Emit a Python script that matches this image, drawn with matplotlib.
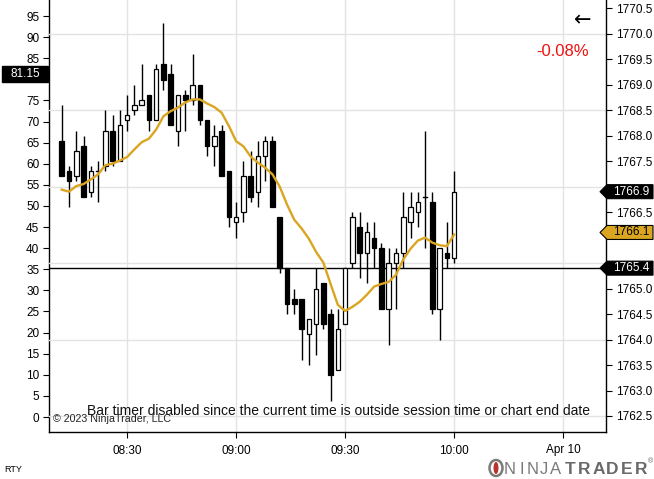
import matplotlib
matplotlib.use("Agg")
import matplotlib.pyplot as plt
from matplotlib.patches import Rectangle, Polygon, Ellipse
import matplotlib.transforms as mtrans

plt.rcParams['font.family'] = ['Liberation Sans', 'DejaVu Sans']

# ---------------- data ----------------
opens = [1767.9, 1767.3, 1767.2, 1767.8, 1766.9, 1767.3, 1767.4, 1768.1, 1767.5, 1768.3,
         1768.5, 1768.6, 1768.8, 1768.3, 1769.4, 1769.2, 1768.1, 1768.8, 1768.7, 1769.0,
         1768.3, 1767.8, 1768.1, 1767.3, 1766.3, 1766.5, 1767.2, 1766.9, 1767.6, 1767.9,
         1766.4, 1765.4, 1764.8, 1764.8, 1764.1, 1764.3, 1765.1, 1764.5, 1763.4, 1764.3,
         1765.5, 1766.2, 1765.7, 1766.0, 1765.8, 1764.6, 1765.5, 1765.7, 1766.3, 1766.5,
         1766.8, 1766.7, 1764.6, 1765.7, 1765.6]
highs = [1768.6, 1767.4, 1768.1, 1768.0, 1767.4, 1767.5, 1768.5, 1768.4, 1768.5, 1768.8,
         1769.0, 1769.4, 1768.8, 1769.4, 1770.2, 1769.4, 1768.8, 1768.9, 1769.6, 1769.0,
         1768.3, 1768.2, 1768.2, 1767.3, 1766.7, 1767.5, 1767.7, 1767.9, 1768.0, 1768.0,
         1766.4, 1765.4, 1765.0, 1764.8, 1764.4, 1765.4, 1765.1, 1764.6, 1764.6, 1765.4,
         1766.5, 1766.5, 1766.3, 1766.3, 1765.9, 1765.8, 1765.8, 1766.9, 1766.9, 1766.9,
         1768.1, 1766.9, 1765.8, 1766.3, 1767.3]
lows = [1767.2, 1766.6, 1767.1, 1766.8, 1766.8, 1766.7, 1767.3, 1767.4, 1767.5, 1768.1,
        1768.4, 1768.6, 1768.1, 1768.3, 1768.9, 1768.2, 1767.8, 1768.1, 1768.6, 1768.2,
        1767.6, 1767.4, 1767.2, 1766.2, 1766.0, 1766.3, 1766.7, 1766.6, 1767.1, 1766.6,
        1765.3, 1764.5, 1764.5, 1763.6, 1763.5, 1763.7, 1764.2, 1762.8, 1763.4, 1764.3,
        1765.4, 1765.2, 1765.1, 1765.4, 1764.6, 1763.9, 1764.6, 1765.4, 1766.0, 1766.2,
        1765.8, 1764.5, 1764.0, 1765.4, 1765.5]
closes = [1767.2, 1767.1, 1767.7, 1766.8, 1767.3, 1767.3, 1768.1, 1767.5, 1768.2, 1768.4,
          1768.6, 1768.7, 1768.3, 1769.3, 1769.1, 1768.2, 1768.8, 1768.7, 1769.0, 1768.3,
          1767.8, 1768.0, 1767.2, 1766.4, 1766.4, 1767.2, 1766.8, 1767.6, 1767.9, 1766.6,
          1765.4, 1764.7, 1764.7, 1764.2, 1764.4, 1765.0, 1764.3, 1763.3, 1764.2, 1765.4,
          1766.4, 1765.7, 1766.1, 1765.8, 1764.6, 1765.5, 1765.7, 1766.4, 1766.6, 1766.7,
          1766.8, 1764.6, 1765.8, 1765.6, 1766.9]
sma = [1766.94, 1766.90, 1767.01, 1767.05, 1767.14, 1767.24, 1767.42, 1767.45, 1767.51, 1767.58,
       1767.73, 1767.87, 1767.94, 1768.12, 1768.38, 1768.48, 1768.55, 1768.65, 1768.71, 1768.71,
       1768.63, 1768.56, 1768.45, 1768.19, 1767.89, 1767.79, 1767.59, 1767.47, 1767.37, 1767.24,
       1767.00, 1766.65, 1766.35, 1766.18, 1765.98, 1765.72, 1765.51, 1765.09, 1764.68, 1764.56,
       1764.64, 1764.74, 1764.88, 1765.04, 1765.09, 1765.13, 1765.27, 1765.57, 1765.78, 1765.94,
       1766.00, 1765.90, 1765.85, 1765.83, 1766.06]

xtick_pos = [9, 24, 39, 54, 69]
xtick_labels = ['08:30', '09:00', '09:30', '10:00', 'Apr 10']
price_ticks = [1762.5 + 0.5 * k for k in range(17)]
price_hidden = [1765.5, 1766.0, 1767.0]   # covered by the price markers
price_grid = [1762.5, 1764.0, 1765.5, 1767.0, 1768.5, 1770.0]
left_ticks = list(range(0, 100, 5))
left_hidden = [80]

last_price = 1766.9
sma_last = 1766.1
hline_price = 1765.4
left_marker = 81.15
change_text = '-0.08%'

# ---------------- figure ----------------
W, H = 654, 479
fig = plt.figure(figsize=(W / 100, H / 100), dpi=100)
fig.patch.set_facecolor('white')

def px(x, y):
    return x / W, 1 - y / H

L, R, T, B = 49, 606, 0, 432
pos = [L / W, 1 - B / H, (R - L) / W, (B - T) / H]

# left indicator axis (behind)
axL = fig.add_axes(pos)
axL.set_xlim(0, 1)
axL.set_xticks([])
axL.set_ylim(-3.55, 98.8)
axL.set_yticks(left_ticks)
axL.set_yticklabels(['' if v in left_hidden else str(v) for v in left_ticks])
axL.tick_params(axis='y', direction='out', length=4, pad=3, labelsize=8.5)
for s in ['top', 'right', 'bottom']:
    axL.spines[s].set_visible(False)
axL.spines['left'].set_linewidth(1.0)

# main price axis
ax = fig.add_axes(pos)
ax.patch.set_visible(False)
ax.set_xlim(-1.75, 74.9)
ax.set_ylim(1762.186, 1770.66)

for g in price_grid:
    ax.axhline(g, color='#e3e3e3', lw=1.0, zorder=0)
for xt in xtick_pos:
    ax.axvline(xt, color='#e3e3e3', lw=1.0, zorder=0)

ax.axhline(hline_price, color='black', lw=1.0, zorder=2)

bw = 0.62
for i, (o, h, l, c) in enumerate(zip(opens, highs, lows, closes)):
    ax.plot([i, i], [l, h], color='black', lw=1.0, zorder=3, solid_capstyle='butt')
    lo, hi = min(o, c), max(o, c)
    if abs(c - o) < 1e-9:
        ax.plot([i - bw / 2, i + bw / 2], [o, o], color='black', lw=1.0, zorder=4)
    else:
        face = 'white' if c > o else 'black'
        ax.add_patch(Rectangle((i - bw / 2, lo), bw, hi - lo, facecolor=face,
                               edgecolor='black', lw=0.9, zorder=4))

ax.plot(range(len(sma)), sma, color='#DAA520', lw=1.7, zorder=5)

for s in ['top', 'left']:
    ax.spines[s].set_visible(False)
for s in ['right', 'bottom']:
    ax.spines[s].set_color('black')
    ax.spines[s].set_linewidth(1.0)
ax.yaxis.tick_right()
ax.set_yticks(price_ticks)
ax.set_yticklabels(['' if any(abs(p - q) < 1e-6 for q in price_hidden) else f'{p:.1f}'
                    for p in price_ticks])
ax.tick_params(axis='y', which='both', direction='out', length=4, pad=3,
               labelsize=8.5, colors='black')
ax.set_xticks(xtick_pos)
ax.set_xticklabels(xtick_labels)
ax.tick_params(axis='x', direction='out', length=4, pad=5, labelsize=8.5)

# price markers on right
bt = mtrans.blended_transform_factory(fig.transFigure, ax.transData)
hh = 7 / 51.0
def price_tag(price, face, tcolor):
    x0, x1, xt = 607 / W, 653 / W, 600 / W
    poly = Polygon([(xt, price), (x0, price + hh), (x1, price + hh),
                    (x1, price - hh), (x0, price - hh)], closed=True,
                   facecolor=face, edgecolor='black', lw=0.8, transform=bt,
                   clip_on=False, zorder=10)
    fig.add_artist(poly)
    fig.add_artist(plt.Text(631 / W, price, f'{price:.1f}', transform=bt,
                            ha='center', va='center', fontsize=8.5,
                            color=tcolor, zorder=11))

price_tag(last_price, 'black', 'white')
price_tag(sma_last, '#DAA520', 'black')
price_tag(hline_price, 'black', 'white')

# left marker
btL = mtrans.blended_transform_factory(fig.transFigure, axL.transData)
hl = 8 / 4.221
fig.add_artist(Rectangle((2 / W, left_marker - hl), 46 / W, 2 * hl, facecolor='black',
                         edgecolor='black', transform=btL, clip_on=False, zorder=10))
fig.add_artist(plt.Text(25 / W, left_marker, f'{left_marker:.2f}', transform=btL,
                        ha='center', va='center', fontsize=8.5, color='white', zorder=11))

# texts
fig.text(*px(583, 20), '\u2190', ha='center', va='center', fontsize=15,
         family='DejaVu Sans', color='black')
fig.text(*px(563, 52), change_text, ha='center', va='center', fontsize=12, color='#ee1111')
fig.text(*px(338, 411), 'Bar timer disabled since the current time is outside session time or chart end date',
         ha='center', va='center', fontsize=10, color='#111111')
fig.text(*px(53, 419), '\u00a9 2023 NinjaTrader, LLC', ha='left', va='center',
         fontsize=7.7, color='#222222')
fig.text(*px(4, 469), 'RTY', ha='left', va='center', fontsize=6.5, color='black')

# logo
fig.add_artist(Ellipse(px(496, 468), 13 / W, 16 / H, facecolor='none',
                       edgecolor='#7a7a7a', lw=1.8, transform=fig.transFigure))
fig.add_artist(Ellipse(px(496, 468), 5 / W, 12 / H, facecolor='#b8342a',
                       edgecolor='none', transform=fig.transFigure))
for k, ch in enumerate('NINJA'):
    fig.text(*px(510 + k * 11.4, 469), ch, ha='center', va='center', fontsize=12,
             color='#7a7a7a', fontweight='light')
for k, ch in enumerate('TRADER'):
    fig.text(*px(570 + k * 14.2, 469), ch, ha='center', va='center', fontsize=12.5,
             color='#6a6a6a', fontweight='bold')
fig.text(*px(648, 462), '\u00ae', ha='left', va='center', fontsize=5, color='#666666')

fig.savefig('out.png', dpi=100)
